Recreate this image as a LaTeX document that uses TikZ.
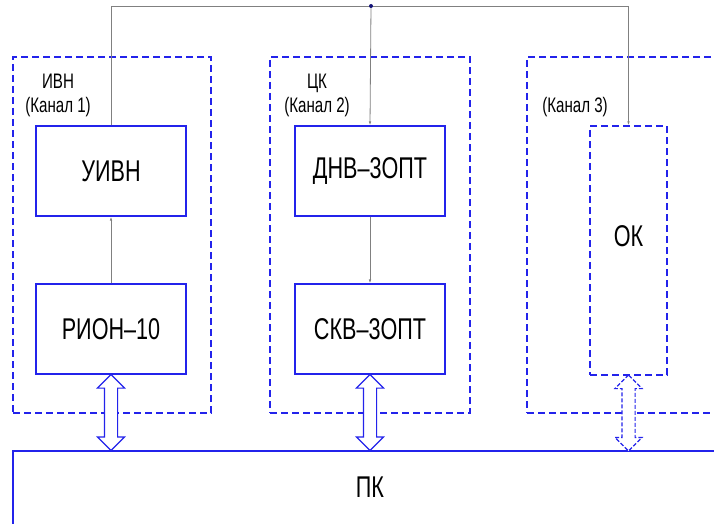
\documentclass[tikz,border=0pt]{standalone}
\usepackage{fontspec}
\setmainfont{Liberation Sans}[FakeStretch=0.72]
\usetikzlibrary{arrows.meta,shapes.arrows}

\definecolor{cadblue}{RGB}{35,35,235}
\definecolor{jnblue}{RGB}{20,20,120}

\tikzset{
  blockbox/.style={draw=cadblue, line width=1.1pt, minimum width=150pt,
    minimum height=90pt, inner sep=0pt, font=\fontsize{30}{32}\selectfont},
  chanbox/.style={draw=cadblue, line width=1.1pt, dash pattern=on 7pt off 4pt,
    inner sep=0pt},
  chanlabel/.style={align=center, font=\fontsize{21}{24}\selectfont},
  biglabel/.style={font=\fontsize{30}{32}\selectfont},
  link/.style={draw=gray, line width=0.8pt},
  tip/.style={-{Latex[length=4pt,width=2.5pt]}},
  busarrow/.style={draw=cadblue, fill=white, line width=1.1pt, double arrow,
    rotate=90, minimum height=76pt, minimum width=26pt,
    double arrow head extend=7pt, inner sep=6pt}
}

\begin{document}
\begin{tikzpicture}[x=1pt, y=-1pt]
    \useasboundingbox (0,0) rectangle (714,524);

    % channels
    \node[chanbox, minimum width=198pt, minimum height=356pt] (ch1) at (112,235) {};
    \node[chanbox, minimum width=200pt, minimum height=356pt] (ch2) at (370,235) {};
    \node[chanbox, minimum width=233pt, minimum height=356pt] (ch3) at (643.5,235) {};
    \node[chanlabel] (lbl1) at (58,95) {ИВН\\(Канал 1)};
    \node[chanlabel] (lbl2) at (317,95) {ЦК\\(Канал 2)};
    \node[chanlabel] (lbl3) at (575,107) {(Канал 3)};

    % blocks
    \node[blockbox] (uivn) at (111,171) {УИВН};
    \node[blockbox] (rion) at (111,329) {РИОН–10};
    \node[blockbox] (dnv) at (370,171) {ДНВ–3ОПТ};
    \node[blockbox] (skv) at (370,329) {СКВ–3ОПТ};
    \node[chanbox, minimum width=77pt, minimum height=249pt] (ok) at (628.5,250.5) {};
    \node[biglabel] (oklbl) at (628.5,236) {ОК};
    \node[blockbox, minimum width=728pt, minimum height=108pt] (pk) at (377,505) {};
    \node[biglabel] (pklbl) at (370,487) {ПК};

    % signal lines
    \coordinate (jn) at (371,6);
    \draw[link] (uivn.north) |- (jn);
    \draw[link, tip] (jn) -- (dnv.north);
    \draw[link, tip] (jn) -| (ok.north);
    \draw[link, tip] (rion.north) -- (uivn.south);
    \draw[link, tip] (dnv.south) -- (skv.north);
    \fill[jnblue] (jn) circle (2pt);

    % buses to PC
    \path (rion.south) -- (pk.north -| rion.south) node[midway, busarrow] (bus1) {};
    \path (skv.south) -- (pk.north -| skv.south) node[midway, busarrow] (bus2) {};
    \path (ok.south) -- (pk.north -| ok.south)
        node[midway, busarrow, dash pattern=on 4pt off 2pt] (bus3) {};
\end{tikzpicture}
\end{document}
